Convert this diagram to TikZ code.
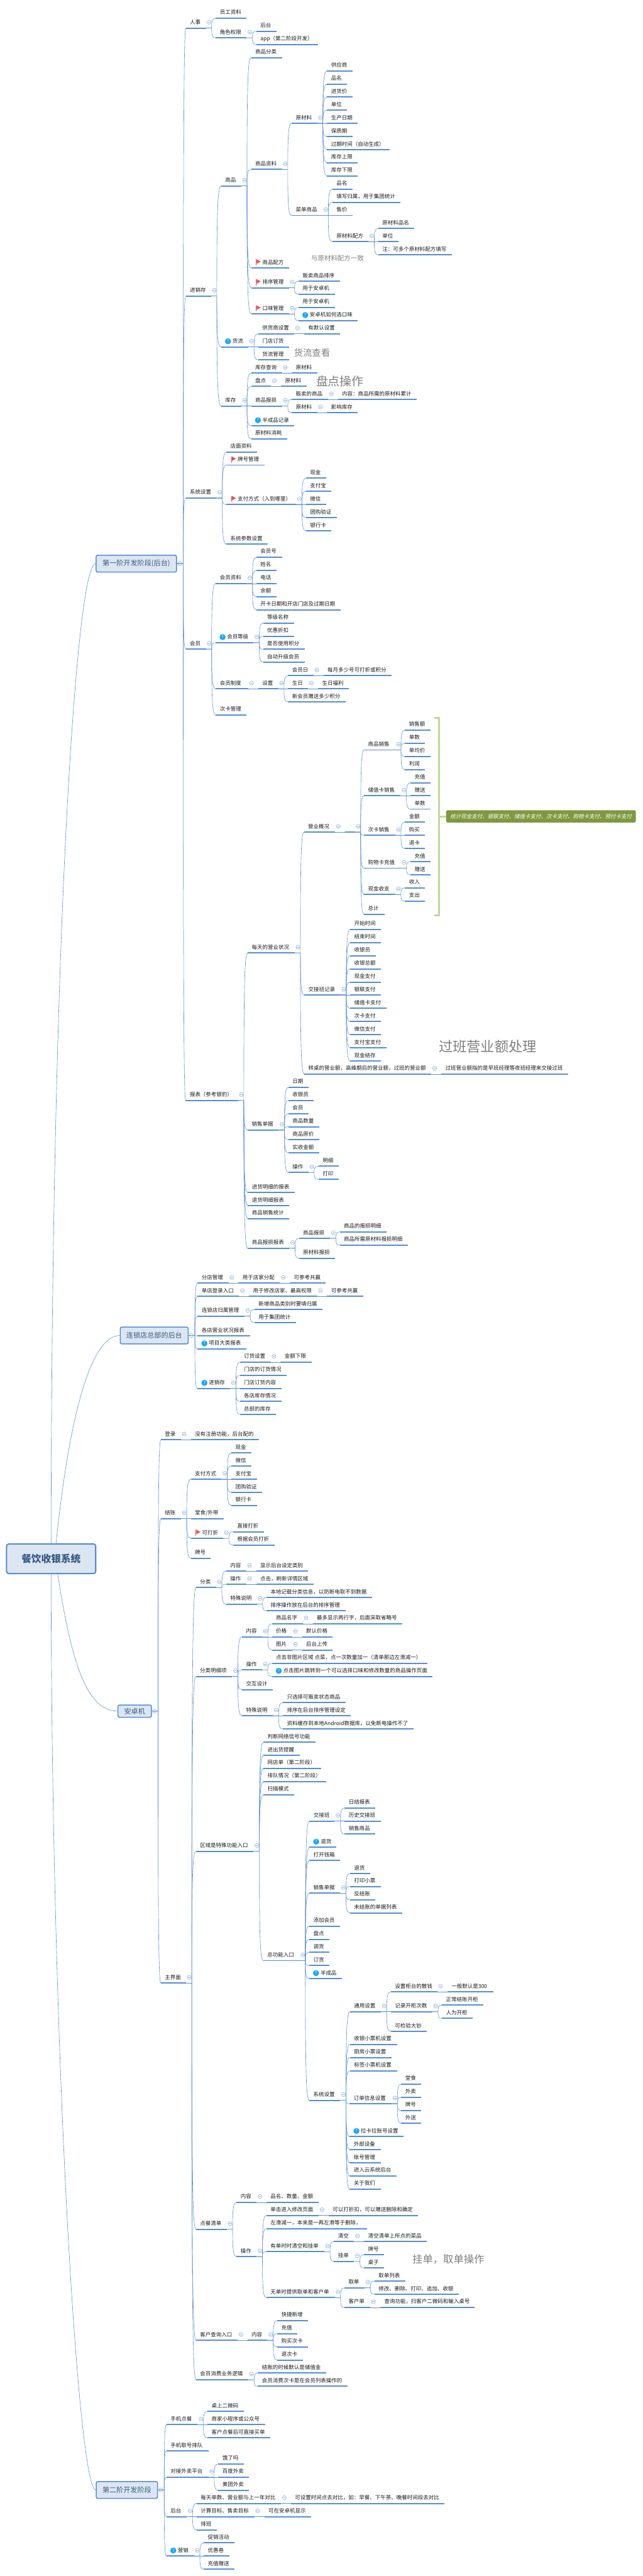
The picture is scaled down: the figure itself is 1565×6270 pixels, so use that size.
\documentclass[tikz,border=0pt]{standalone}
\usepackage{fontspec}
\setmainfont{Noto Sans CJK SC}
\newfontfamily\slantcjk[FakeSlant=0.22]{Noto Sans CJK SC}
\usetikzlibrary{calc}
\definecolor{barblue}{HTML}{558ED5}
\definecolor{lineblue}{HTML}{5F94DA}
\definecolor{ringblue}{HTML}{8DB3E2}
\definecolor{boxfill}{HTML}{DCE6F2}
\definecolor{boxtext}{HTML}{3B5A85}
\definecolor{flagred}{HTML}{EA4F4F}
\definecolor{qblue}{HTML}{12A9F7}
\definecolor{notegrey}{HTML}{7F7F7F}
\definecolor{brgreen}{HTML}{C3D69B}
\definecolor{boxgreen}{HTML}{7F993F}
\newdimen\pxlen \pxlen=0.75pt
\tikzset{
  topic/.style={inner sep=0pt,outer sep=0pt,minimum height=19.5pt,anchor=south west,text=black!90,font=\fontsize{9.75pt}{11pt}\selectfont},
  barline/.style={draw=barblue,line width=2.25pt},
  conn/.style={draw=lineblue,line width=0.7pt},
  ring/.style={draw=ringblue,fill=white,line width=0.75pt},
  ringm/.style={draw=ringblue,line width=0.7pt},
  bigbox/.style={draw=barblue,fill=boxfill,rounded corners=3pt,line width=1.8pt,inner sep=0pt,text=boxtext,font=\fontsize{12.75pt}{15pt}\selectfont},
  rootbox/.style={draw=barblue,fill=boxfill,rounded corners=4pt,line width=2.4pt,inner sep=0pt,text=boxtext,font=\fontsize{18pt}{20pt}\bfseries\selectfont},
  notetext/.style={inner sep=0pt,text=notegrey},
  qicon/.style={circle,fill=qblue,inner sep=0pt,minimum size=11pt,text=white,font=\fontsize{8pt}{8pt}\selectfont},
}
\newcommand\Conn[2]{%
  \ifcsname isbox#1\endcsname
    \def\pa{#1.east}\def\bs{11.25pt}\def\cx{6.5}\def\cy{0}%
  \else
    \def\pa{#1.south east}\def\bs{10.5pt}\def\cx{8}\def\cy{-14}%
  \fi
  \draw[conn] let \p1=(\pa), \p2=(#2.south west), \p3=([xshift=\bs]\pa) in
    (\p1) -- (\p3) .. controls (\x3,{\y3+0.8*(\y2-\y3)}) and ({\x3+0.2*(\x2-\x3)},\y2) .. (\p2);
  \ifcsname seen#1\endcsname\else
    \expandafter\gdef\csname seen#1\endcsname{}%
    \begin{scope}[shift={(\pa)},shift={(\cx,\cy)}]
      \draw[ring] (0,0) circle [radius=3.6pt];
      \draw[ringm] (-2.6,0) -- (2.6,0);
    \end{scope}
  \fi
}
\newcommand\Tcore[6]{% indent id x1 x2 y text
  \pgfmathsetlengthmacro\wid{(#4-#3)*0.75pt}%
  \node[topic] (#2) at (#3,#5) {\makebox[\wid][l]{\hspace*{#1\pxlen}\vphantom{国g}#6}};
  \draw[barline] (#2.south west) -- (#2.south east);
}
% plain topic: id parent x1 x2 y text
\newcommand\T[6]{\Tcore{10}{#1}{#3}{#4}{#5}{#6}\Conn{#2}{#1}}
% topic with flag
\newcommand\TF[6]{\Tcore{27.5}{#1}{#3}{#4}{#5}{#6}\Conn{#2}{#1}%
  \begin{scope}[shift={(#1.south west)}]
    \fill[flagred] (12,-21) rectangle (13.5,-6);
    \fill[flagred] (13.5,-21) -- (23,-15.5) -- (13.5,-10) -- cycle;
  \end{scope}}
% topic with question mark
\newcommand\TQ[6]{\Tcore{27.5}{#1}{#3}{#4}{#5}{#6}\Conn{#2}{#1}%
  \begin{scope}[shift={(#1.south west)}]
    \node[qicon] (#1q) at (16.5,-13.6) {?};
  \end{scope}}
% big box: id xleft xright ycentre height text
\newcommand\Bx[6]{%
  \pgfmathsetlengthmacro\wid{(#3-#2)*0.75pt}%
  \pgfmathsetlengthmacro\hgt{#5*0.75pt}%
  \node[bigbox,minimum width=\wid,minimum height=\hgt] (#1) at ({(#2+#3)/2},#4) {#6};
  \expandafter\gdef\csname isbox#1\endcsname{}%
}
\newcommand\Note[4]{% id x y size(pt) text -> id x,y in #2, size #3, text #4
  \node[notetext,font=\fontsize{#3}{#3}\selectfont] (#1) at (#2) {#4};}
\begin{document}
\begin{tikzpicture}[x=0.75pt,y=-0.75pt]
\useasboundingbox (0,0) rectangle (1565,6270);
\fill[white] (0,0) rectangle (1565,6270);
% root and first level
\node[rootbox,minimum width=162.75pt,minimum height=54pt] (root) at (124.5,3794) {餐饮收银系统};
\Bx{a}{234}{430}{1372}{41}{第一阶开发阶段(后台)}
\Bx{b}{293}{458.3}{3250.5}{41}{连锁店总部的后台}
\Bx{c}{287.3}{368.7}{4165}{30}{安卓机}
\Bx{d}{234.4}{383.7}{6060.5}{41}{第二阶开发阶段}
\draw[conn] (root.north) .. controls (125,2300) and (185,1372) .. (a.west);
\draw[conn] ([xshift=9pt]root.north) .. controls (165,3480) and (215,3250.5) .. (b.west);
\draw[conn] ([xshift=12pt]root.south) .. controls (170,4020) and (205,4165) .. (c.west);
\draw[conn] (root.south) .. controls (125,5000) and (190,6060.5) .. (d.west);
% ---- a
\T{a1}{a}{452.6}{501.4}{68.2}{人事}
\T{a11}{a1}{525.5}{600.7}{44.3}{员工资料}
\T{a12}{a1}{525.5}{600.7}{92.1}{角色权限}
\T{a121}{a12}{624.2}{673.6}{76}{后台}
\T{a122}{a12}{624.2}{774.6}{108.2}{app（第二阶段开发）}
\T{a2}{a}{452.6}{514}{720.4}{进销存}
\T{a21}{a2}{538.7}{587.5}{452.5}{商品}
\T{a211}{a21}{611.6}{686.8}{140.4}{商品分类}
\T{a212}{a21}{611.6}{686.8}{412.5}{商品资料}
\T{m1}{a212}{710.3}{772.3}{300.4}{原材料}
\T{m11}{m1}{796.4}{858.4}{172.5}{供应商}
\T{m12}{m1}{796.4}{845.2}{204.6}{品名}
\T{m13}{m1}{796.4}{858.4}{236.1}{进货价}
\T{m14}{m1}{796.4}{845.2}{268.2}{单位}
\T{m15}{m1}{796.4}{871.6}{300.4}{生产日期}
\T{m16}{m1}{796.4}{858.4}{332.5}{保质期}
\T{m17}{m1}{796.4}{949.7}{364.3}{过期时间（自动生成）}
\T{m18}{m1}{796.4}{871.6}{396.4}{库存上限}
\T{m19}{m1}{796.4}{871.6}{428.2}{库存下限}
\T{m2}{a212}{710.3}{785.5}{524.3}{菜单商品}
\T{m21}{m2}{809.6}{858.4}{460.4}{品名}
\T{m22}{m2}{809.6}{975.6}{492.5}{填写归属，用于集团统计}
\T{m23}{m2}{809.6}{858.4}{524.3}{售价}
\T{m24}{m2}{809.6}{897.5}{588.2}{原材料配方}
\T{m241}{m24}{921.3}{1009.4}{556}{原材料品名}
\T{m242}{m24}{921.3}{970.4}{588.2}{单位}
\T{m243}{m24}{921.3}{1100}{620.4}{注：可多个原材料配方填写}
\Note{n1}{822,629}{12pt}{与原材料配方一致}
\TF{a213}{a21}{611.6}{703.4}{652.1}{商品配方}
\TF{a214}{a21}{611.6}{703.4}{700.4}{排序管理}
\T{a2141}{a214}{727}{828.6}{684.3}{贩卖商品排序}
\T{a2142}{a214}{727}{815.4}{716}{用于安卓机}
\TF{a215}{a21}{611.6}{703.4}{764.3}{口味管理}
\T{a2151}{a215}{727}{815.4}{748.2}{用于安卓机}
\TQ{a2152}{a215}{727}{871.6}{780.4}{安卓机如何选口味}
\TQ{a22}{a2}{538.7}{604.7}{844.3}{货流}
\T{a221}{a22}{628.8}{716.7}{812.5}{供货商设置}
\T{a2211}{a221}{740.8}{828.6}{812.5}{有默认设置}
\T{a222}{a22}{628.8}{703.4}{844.3}{门店订货}
\T{a223}{a22}{628.8}{703.4}{876.1}{货流管理}
\Note{n2}{760,859}{16.5pt}{货流查看}
\T{a23}{a2}{538.7}{587.5}{988.2}{库存}
\T{a231}{a23}{611.6}{686.8}{908.2}{库存查询}
\T{a2311}{a231}{710.3}{772.3}{908.2}{原材料}
\T{a232}{a23}{611.6}{660.4}{940.4}{盘点}
\T{a2321}{a232}{684.5}{746.5}{940.4}{原材料}
\Note{n3}{828,928.6}{21.75pt}{盘点操作}
\T{a233}{a23}{611.6}{686.8}{988.2}{商品报损}
\T{a2331}{a233}{710.3}{798.7}{972.5}{贩卖的商品}
\T{a2332}{a2331}{822.9}{1014.6}{972.5}{内容：商品所需的原材料累计}
\T{a2333}{a233}{710.3}{772.3}{1004.3}{原材料}
\T{a2334}{a2333}{796.4}{871.6}{1004.3}{影响库存}
\TQ{a234}{a23}{611.6}{716.7}{1036.4}{半成品记录}
\T{a235}{a23}{611.6}{699.4}{1068.2}{原材料消耗}
\T{a3}{a}{452.6}{527.2}{1212.3}{系统设置}
\T{a31}{a3}{551.3}{626.5}{1100.4}{店面资料}
\TF{a32}{a3}{551.3}{643.7}{1132}{牌号管理}
\TF{a33}{a3}{551.3}{721.2}{1228.1}{支付方式（入到哪里）}
\T{a331}{a33}{745.4}{794.7}{1164}{现金}
\T{a332}{a33}{745.4}{807.3}{1196}{支付宝}
\T{a333}{a33}{745.4}{794.7}{1228.1}{微信}
\T{a334}{a33}{745.4}{820.6}{1260.1}{团购验证}
\T{a335}{a33}{745.4}{807.3}{1292.2}{银行卡}
\T{a34}{a3}{551.3}{652.4}{1324.2}{系统参数设置}
\T{a4}{a}{452.6}{501.4}{1580}{会员}
\T{a41}{a4}{525.5}{600.7}{1420.3}{会员资料}
\T{a411}{a41}{624.2}{686.8}{1356.2}{会员号}
\T{a412}{a41}{624.2}{673.6}{1388.3}{姓名}
\T{a413}{a41}{624.2}{673.6}{1420.3}{电话}
\T{a414}{a41}{624.2}{673.6}{1452.3}{余额}
\T{a415}{a41}{624.2}{829.7}{1484.3}{开卡日期和开店门店及过期日期}
\TQ{a42}{a4}{525.5}{617.3}{1564.2}{会员等级}
\T{a421}{a42}{640.9}{716.7}{1516.4}{等级名称}
\T{a422}{a42}{640.9}{716.7}{1548.4}{优惠折扣}
\T{a423}{a42}{640.9}{742.5}{1580.4}{是否使用积分}
\T{a424}{a42}{640.9}{742.5}{1612.5}{自动升级会员}
\T{a43}{a4}{525.5}{604.7}{1676.5}{会员制度}
\T{a431}{a43}{628.8}{677.6}{1676.5}{设置}
\T{a4311}{a431}{701.7}{763.7}{1644.5}{会员日}
\T{a4312}{a4311}{787.8}{953.7}{1644.5}{每月多少号可打折或积分}
\T{a4313}{a431}{701.7}{750.5}{1676.5}{生日}
\T{a4314}{a4313}{774.6}{849.8}{1676.5}{生日福利}
\T{a4315}{a431}{701.7}{841.8}{1708.5}{新会员赠送多少积分}
\T{a44}{a4}{525.5}{600.6}{1740.4}{次卡管理}
\T{a5}{a}{452.3}{579.8}{2678.2}{报表（参考银豹）}
\T{r1}{a5}{603.4}{717.6}{2319.3}{每天的营业状况}
\T{r11}{r1}{740.3}{816}{2025.4}{营业概况}
\T{r1e}{r11}{839.8}{864.3}{2025.4}{}
\T{s1}{r1e}{886.6}{962.4}{1825.4}{商品销售}
\T{s11}{s1}{986.2}{1048.6}{1777.1}{销售额}
\T{s12}{s1}{986.2}{1035.2}{1809.3}{单数}
\T{s13}{s1}{986.2}{1048.6}{1841.4}{单均价}
\T{s14}{s1}{986.2}{1035.2}{1873.2}{利润}
\T{s2}{r1e}{886.6}{975.8}{1937.1}{储值卡销售}
\T{s21}{s2}{999.6}{1048.6}{1905.4}{充值}
\T{s22}{s2}{999.6}{1048.6}{1937.1}{赠送}
\T{s23}{s2}{999.6}{1048.6}{1969.3}{单数}
\T{s3}{r1e}{886.6}{962.4}{2033.2}{次卡销售}
\T{s31}{s3}{986.2}{1035.2}{2001.1}{金额}
\T{s32}{s3}{986.2}{1035.2}{2033.2}{购买}
\T{s33}{s3}{986.2}{1035.2}{2065.4}{退卡}
\T{s4}{r1e}{886.6}{975.8}{2113.2}{购物卡充值}
\T{s41}{s4}{999.6}{1048.6}{2097.1}{充值}
\T{s42}{s4}{999.6}{1048.6}{2129.3}{赠送}
\T{s5}{r1e}{886.6}{962.4}{2177.1}{现金收支}
\T{s51}{s5}{986.2}{1035.2}{2161.1}{收入}
\T{s52}{s5}{986.2}{1035.2}{2193.2}{支出}
\T{s6}{r1e}{886.6}{936.4}{2225.4}{总计}
\coordinate (brt) at (1057,1748);
\coordinate (brb) at (1057,2228);
\draw[brgreen,line width=3.4pt] (brt) -- (1069.5,1748) -- (1069.5,2228) -- (brb);
\node[rounded corners=3pt,fill=boxgreen,minimum width=346.6pt,minimum height=22.5pt,inner sep=0pt,text=white,font=\fontsize{9.75pt}{11pt}\slantcjk] (sumbox) at (1317.5,1987) {统计现金支付、银联支付、储值卡支付、次卡支付、购物卡支付、预付卡支付};
\draw[brgreen,line width=3.4pt] (1069.5,1987) -- (sumbox.west);
\T{r12}{r1}{741.2}{829.2}{2422.1}{交接班记录}
\T{j1}{r12}{852.8}{928}{2262.1}{开始时间}
\T{j2}{r12}{852.8}{928}{2294.3}{结束时间}
\T{j3}{r12}{852.8}{915.3}{2326.1}{收银员}
\T{j4}{r12}{852.8}{928}{2358.2}{收银总额}
\T{j5}{r12}{852.8}{928}{2390.4}{现金支付}
\T{j6}{r12}{852.8}{928}{2422.1}{银联支付}
\T{j7}{r12}{852.8}{941.4}{2454.3}{储值卡支付}
\T{j8}{r12}{852.8}{928}{2486.1}{次卡支付}
\T{j9}{r12}{852.8}{928}{2518.2}{微信支付}
\T{j10}{r12}{852.8}{941.4}{2550.4}{支付宝支付}
\T{j11}{r12}{852.8}{928}{2582.5}{现金结存}
\Note{n4}{1188,2547}{25.5pt}{过班营业额处理}
\T{r13}{r1}{741.2}{1050.5}{2614.3}{转桌的营业额，高峰期后的营业额，过班的营业额}
\T{r131}{r13}{1074.7}{1383.4}{2614.3}{过班营业额指的是早班经理等夜班经理来交接过班}
\T{r2}{a5}{603.4}{678.7}{2750.4}{销售单据}
\T{r21}{r2}{702.3}{751.4}{2646.4}{日期}
\T{r22}{r2}{702.3}{764.2}{2678.2}{收银员}
\T{r23}{r2}{702.3}{751.4}{2710.4}{会员}
\T{r24}{r2}{702.3}{777.6}{2742.5}{商品数量}
\T{r25}{r2}{702.3}{777.6}{2774.3}{商品原价}
\T{r26}{r2}{702.3}{777.6}{2806.5}{实收金额}
\T{r27}{r2}{702.3}{751.1}{2853.9}{操作}
\T{r271}{r27}{775.8}{824.6}{2838.5}{明细}
\T{r272}{r27}{775.8}{824.6}{2870.5}{打印}
\T{r3}{a5}{603.6}{717.2}{2902.6}{进货明细的报表}
\T{r4}{a5}{603.6}{704.6}{2934.6}{退货明细报表}
\T{r5}{a5}{603.6}{704.6}{2966.2}{商品销售统计}
\T{r6}{a5}{603.6}{704.6}{3038.2}{商品报损报表}
\T{r61}{r6}{728.1}{803.9}{3014.1}{商品报损}
\T{r611}{r61}{827.4}{941.1}{2998.3}{商品的报损明细}
\T{r612}{r61}{827.4}{993.3}{3030.3}{商品所需原材料报损明细}
\T{r62}{r6}{728.1}{816.5}{3062.3}{原材料报损}
% ---- b
\T{b1}{b}{481.3}{556.5}{3123.2}{分店管理}
\T{b11}{b1}{580.6}{681.6}{3123.2}{用于店家分配}
\T{b111}{b11}{705.7}{793.6}{3123.2}{可参考共赢}
\T{b2}{b}{481.3}{582.3}{3155.2}{单店登录入口}
\T{b21}{b2}{606.4}{772.3}{3155.2}{用于修改店家、最高权限}
\T{b211}{b21}{796.4}{884.3}{3155.2}{可参考共赢}
\T{b3}{b}{481.3}{595.5}{3203.5}{连锁店归属管理}
\T{b31}{b3}{619.6}{785.5}{3187.3}{新增商品类别时要填归属}
\T{b32}{b3}{619.6}{720.7}{3219.3}{用于集团统计}
\T{b4}{b}{481.3}{608.7}{3251.3}{各店营业状况报表}
\TQ{b5}{b}{481.3}{599.5}{3283.4}{项目大类报表}
\TQ{b6}{b}{481.3}{560.5}{3379.4}{进销存}
\T{b61}{b6}{584}{659.2}{3315.4}{订货设置}
\T{b611}{b61}{683.4}{758.6}{3315.4}{金额下限}
\T{b62}{b6}{584}{698.3}{3347.4}{门店的订货情况}
\T{b63}{b6}{584}{685.6}{3379.4}{门店订货内容}
\T{b64}{b6}{584}{685.2}{3411}{各店库存情况}
\T{b65}{b6}{584}{672.6}{3443.2}{总部的库存}
% ---- c
\T{c1}{c}{391.8}{440.6}{3504.3}{登录}
\T{c11}{c1}{464.8}{630.7}{3504.3}{没有注册功能，后台配的}
\T{c2}{c}{391.8}{440.6}{3696.1}{结账}
\T{c21}{c2}{464.8}{539.4}{3600.4}{支付方式}
\T{c211}{c21}{563.5}{612.3}{3536.1}{现金}
\T{c212}{c21}{563.5}{612.3}{3568.2}{微信}
\T{c213}{c21}{563.5}{625.5}{3600.4}{支付宝}
\T{c214}{c21}{563.5}{638.7}{3632.5}{团购验证}
\T{c215}{c21}{563.5}{625.5}{3664.3}{银行卡}
\T{c22}{c2}{464.8}{545.7}{3696.1}{堂食/外带}
\TF{c23}{c2}{464.8}{543.4}{3744.3}{可打折}
\T{c231}{c23}{567.5}{642.7}{3728.2}{直接打折}
\T{c232}{c23}{567.5}{668.5}{3760.4}{根据会员打折}
\T{c24}{c2}{464.8}{513.5}{3792.5}{牌号}
\T{c3}{c}{391.8}{453}{4827}{主界面}
\T{f1}{c3}{477.4}{526.2}{3864.3}{分类}
\T{f11}{f1}{550.9}{599.7}{3824.3}{内容}
\T{f111}{f11}{623.8}{750.6}{3824.3}{显示后台设定类别}
\T{f12}{f1}{550.9}{599.7}{3856.1}{操作}
\T{f121}{f12}{623.8}{763.3}{3856.1}{点击，刷新详情区域}
\T{f13}{f1}{550.9}{625.5}{3904.3}{特殊说明}
\T{f131}{f13}{649}{906.8}{3888.2}{本地记载分类信息，以防断电取不到数据}
\T{f132}{f13}{649}{841.3}{3920.4}{排序操作放在后台的排序管理}
\T{f2}{c3}{476.9}{565.3}{4080.4}{分类明细项}
\T{f21}{f2}{589.4}{638.2}{3984.3}{内容}
\T{f211}{f21}{662.3}{737.5}{3952.1}{商品名字}
\T{f2111}{f211}{761.7}{979.2}{3952.1}{最多显示两行字，后面采取省略号}
\T{f212}{f21}{662.3}{711.7}{3984.3}{价格}
\T{f2121}{f212}{735.8}{810.5}{3984.3}{默认价格}
\T{f213}{f21}{662.3}{711.7}{4016.1}{图片}
\T{f2131}{f213}{735.8}{810.5}{4016.1}{后台上传}
\T{f22}{f2}{589.4}{638.2}{4064.3}{操作}
\T{f221}{f22}{662.3}{1040.6}{4048.2}{点击非图片区域 点菜，点一次数量加一（清单那边左滑减一）}
\TQ{f222}{f22}{662.3}{1053.3}{4080.4}{点击图片跳转到一个可以选择口味和修改数量的商品操作页面}
\T{f23}{f2}{589.4}{664.6}{4112.5}{交互设计}
\T{f24}{f2}{589.4}{664.6}{4176.1}{特殊说明}
\T{f241}{f24}{688.8}{841.5}{4144.3}{只选择可贩卖状态商品}
\T{f242}{f24}{688.8}{854.6}{4176.1}{排序在后台排序管理设定}
\T{f243}{f24}{688.8}{1007.3}{4208.2}{资料缓存到本地Android数据库，以免断电操作不了}
\T{f3}{c3}{476.9}{617.6}{4506}{区域是特殊功能入口}
\T{g1}{f3}{641.7}{768.5}{4240.7}{判断网络信号功能}
\T{g2}{f3}{641.7}{729.5}{4272.5}{进出货提醒}
\T{g3}{f3}{641.7}{781.7}{4304.3}{网店单（第二阶段）}
\T{g4}{f3}{641.7}{794.4}{4336.1}{排队情况（第二阶段）}
\T{g5}{f3}{641.7}{716.3}{4368.2}{扫描模式}
\T{g6}{f3}{641.2}{729.6}{4772.1}{总功能入口}
\T{h1}{g6}{753.6}{815}{4432.5}{交接班}
\T{h11}{h1}{839.2}{914.4}{4400.4}{日结报表}
\T{h12}{h1}{839.2}{927.6}{4432.5}{历史交接班}
\T{h13}{h1}{839.2}{914.4}{4464.3}{销售商品}
\TQ{h2}{g6}{753.6}{819.6}{4496.1}{退货}
\T{h3}{g6}{753.2}{828.4}{4528.6}{打开钱箱}
\T{h4}{g6}{753.2}{828.4}{4608.2}{销售单据}
\T{h41}{h4}{852.5}{901.8}{4560.4}{退货}
\T{h42}{h4}{852.5}{927.7}{4592.1}{打印小票}
\T{h43}{h4}{852.5}{914.5}{4624.3}{反结账}
\T{h44}{h4}{852.5}{979.3}{4656.1}{未结账的单据列表}
\T{h5}{g6}{753.2}{828.4}{4688.2}{添加会员}
\T{h6}{g6}{753.2}{802.5}{4720.4}{盘点}
\T{h7}{g6}{753.2}{802.5}{4752.1}{调货}
\T{h8}{g6}{753.2}{802.5}{4784.3}{订货}
\TQ{h9}{g6}{753.2}{832.4}{4816.1}{半成品}
\T{h10}{g6}{753.3}{828.6}{5112.1}{系统设置}
\T{i1}{h10}{852.5}{927.7}{4896.4}{通用设置}
\T{i11}{i1}{951.8}{1065.4}{4848.2}{设置柜台的散钱}
\T{i111}{i11}{1089.6}{1201.5}{4848.2}{一般默认是300}
\T{i12}{i1}{951.8}{1052.8}{4896.4}{记录开柜次数}
\T{i121}{i12}{1076.3}{1177.4}{4880.4}{正常结账开柜}
\T{i122}{i12}{1076.3}{1151.5}{4912.5}{人为开柜}
\T{i13}{i1}{951.8}{1039.6}{4944.3}{可检验大钞}
\T{i2}{h10}{852.5}{966.7}{4976.1}{收银小票机设置}
\T{i3}{h10}{852.5}{953.5}{5008.2}{厨房小票设置}
\T{i4}{h10}{852.5}{966.7}{5040.4}{标签小票机设置}
\T{i5}{h10}{851.5}{953.6}{5120.4}{订单信息设置}
\T{i51}{i5}{977.2}{1026.3}{5072.5}{堂食}
\T{i52}{i5}{977.2}{1026.3}{5104.6}{外卖}
\T{i53}{i5}{977.2}{1026.3}{5136.6}{牌号}
\T{i54}{i5}{977.2}{1026.3}{5168.2}{外送}
\TQ{i6}{h10}{851.5}{983.5}{5200.3}{拉卡拉账号设置}
\T{i7}{h10}{851.5}{927.4}{5232.3}{外部设备}
\T{i8}{h10}{851.5}{927.4}{5264.3}{账号管理}
\T{i9}{h10}{851.5}{966.3}{5296.3}{进入云系统后台}
\T{i10}{h10}{851.5}{927.4}{5328.4}{关于我们}
\T{f4}{c3}{477.2}{552.4}{5426}{点餐清单}
\T{k1}{f4}{576}{625.1}{5360.4}{内容}
\T{k11}{k1}{648.7}{776.3}{5360.4}{品名、数量、金额}
\T{k2}{f4}{576}{625.1}{5492.5}{操作}
\T{k21}{k2}{648.7}{776.3}{5392.4}{单击进入修改页面}
\T{k211}{k21}{800.5}{1018.6}{5392.4}{可以打折扣，可以赠送删除和确定}
\T{k22}{k2}{648.7}{893.6}{5424.5}{左滑减一，本来是一再左滑等于删除，}
\T{k23}{k2}{648.7}{789.7}{5480.6}{有单时时清空和挂单}
\T{k231}{k23}{813.3}{862.4}{5456.1}{清空}
\T{k2311}{k231}{886.6}{1039.7}{5456.1}{清空清单上所点的菜品}
\T{k232}{k23}{813.3}{862.4}{5504.3}{挂单}
\T{k2321}{k232}{886.6}{935.7}{5488.1}{牌号}
\T{k2322}{k232}{886.6}{935.7}{5520.1}{桌子}
\Note{n5}{1092,5499}{18.75pt}{挂单，取单操作}
\T{k24}{k2}{648.7}{815.2}{5592.5}{无单时提供取单和客户单}
\T{k241}{k24}{838.8}{887.9}{5568.4}{取单}
\T{k2411}{k241}{912.1}{987.4}{5552.2}{取单列表}
\T{k2412}{k241}{912.1}{1117.5}{5584.2}{修改、删除、打印、追加、收银}
\T{k242}{k24}{838.8}{901.3}{5616.2}{客户单}
\T{k2421}{k242}{926.1}{1156.4}{5616.2}{查询功能，扫客户二微码和输入桌号}
\T{f5}{c3}{477.3}{578.9}{5696.2}{客户查询入口}
\T{l1}{f5}{602.4}{651.2}{5696.2}{内容}
\T{l11}{l1}{675.3}{750.5}{5648.2}{快捷新增}
\T{l12}{l1}{675.3}{724.7}{5680.2}{充值}
\T{l13}{l1}{675.3}{750.5}{5712.3}{购买次卡}
\T{l14}{l1}{675.3}{737.3}{5744.5}{退次卡}
\T{f6}{c3}{477.3}{604.7}{5792.3}{会员消费业务逻辑}
\T{f61}{f6}{628.2}{794.7}{5776.2}{结账的时候默认是储值金}
\T{f62}{f6}{628.2}{846.4}{5808.3}{会员消费次卡是在会员列表操作的}
% ---- d
\T{d1}{d}{405.5}{481.3}{5901.6}{手机点餐}
\T{d11}{d1}{505.4}{593.2}{5869.4}{桌上二微码}
\T{d12}{d1}{505.4}{645.5}{5901.6}{商家小程序或公众号}
\T{d13}{d1}{505.4}{658.7}{5933.7}{客户点餐后可直接买单}
\T{d2}{d}{405.5}{507.7}{5965.4}{手机取号排队}
\T{d3}{d}{405.5}{507.7}{6029.3}{对接外卖平台}
\T{d31}{d3}{531.8}{593.2}{5997.2}{饿了吗}
\T{d32}{d3}{531.8}{606.4}{6029.3}{百度外卖}
\T{d33}{d3}{531.8}{606.4}{6061.5}{美团外卖}
\T{d4}{d}{405.5}{454.9}{6125.3}{后台}
\T{d41}{d4}{479}{684.5}{6093.2}{每天单数、营业额与上一年对比}
\T{d411}{d41}{708.6}{1082.3}{6093.2}{可设置时间点去对比，如：早餐、下午茶、晚餐时间段去对比}
\T{d42}{d4}{479}{619.6}{6125.3}{计算目标、售卖目标}
\T{d421}{d42}{643.8}{757.4}{6125.3}{可在安卓机显示}
\T{d43}{d4}{479}{528.4}{6157.5}{排班}
\TQ{d5}{d}{405.5}{472.7}{6221.4}{营销}
\T{d51}{d5}{496.2}{571.4}{6189.2}{促销活动}
\T{d52}{d5}{496.2}{558.2}{6221.4}{优惠卷}
\T{d53}{d5}{496.2}{571.4}{6253.5}{充值赠送}
\end{tikzpicture}
\end{document}
